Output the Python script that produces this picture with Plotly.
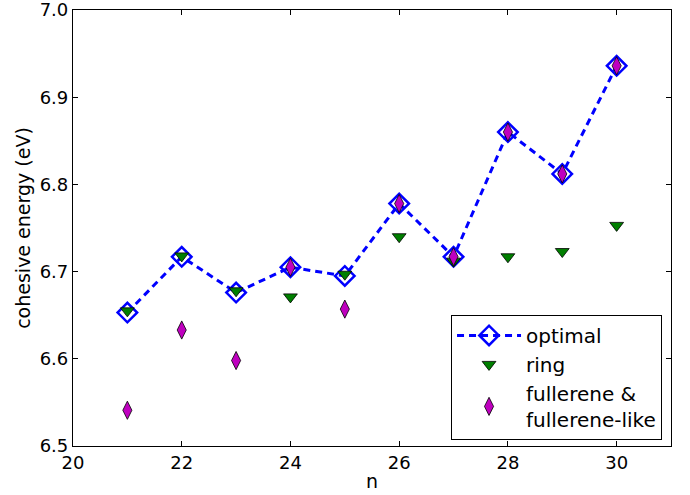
import plotly.graph_objects as go

n = [21, 22, 23, 24, 25, 26, 27, 28, 29, 30]
optimal = [6.653, 6.717, 6.676, 6.705, 6.695, 6.778, 6.717, 6.860, 6.812, 6.936]
ring = [6.655, 6.718, 6.678, 6.671, 6.697, 6.740, 6.712, 6.717, 6.723, 6.753]
fullerene = [6.541, 6.633, 6.598, 6.705, 6.657, 6.778, 6.717, 6.860, 6.812, 6.936]
y_ticks = [6.5, 6.6, 6.7, 6.8, 6.9, 7.0]
x_ticks = [20, 22, 24, 26, 28, 30]

FONT = "DejaVu Sans"

fig = go.Figure()
fig.add_trace(go.Scatter(
    x=n, y=optimal, mode="lines+markers", name="optimal",
    line=dict(color="#0000ff", width=3, dash="7px,5px"),
    marker=dict(symbol="diamond-open", size=15, color="#0000ff",
                line=dict(color="#0000ff", width=2.5)),
))
fig.add_trace(go.Scatter(
    x=n, y=ring, mode="markers", name="ring",
    marker=dict(symbol="triangle-down", size=12, color="#007f00",
                line=dict(color="black", width=0.8)),
))
fig.add_trace(go.Scatter(
    x=n, y=fullerene, mode="markers", name="fullerene &<br>fullerene-like",
    marker=dict(symbol="diamond-tall", size=13, color="#bf00bf",
                line=dict(color="black", width=0.8)),
))

axis_common = dict(
    showgrid=False, zeroline=False, showline=True, linecolor="black",
    linewidth=1.2, mirror="allticks", ticks="inside", ticklen=5,
    tickwidth=1, tickcolor="black", automargin=False,
    ticklabeloverflow="allow",
    tickfont=dict(family=FONT, size=18, color="black"),
)

fig.update_xaxes(range=[20, 31], tickmode="array", tickvals=x_ticks,
                 ticktext=[str(v) for v in x_ticks],
                 title=dict(text="n", font=dict(family=FONT, size=19, color="black"), standoff=2),
                 **axis_common)
fig.update_yaxes(range=[6.5, 7.0], tickmode="array", tickvals=y_ticks,
                 ticktext=[f"{v:.1f}" for v in y_ticks],
                 title=dict(text="cohesive energy (eV)", font=dict(family=FONT, size=19, color="black"), standoff=4),
                 **axis_common)

fig.update_layout(
    width=690, height=495,
    margin=dict(l=73, r=19, t=10, b=49),
    paper_bgcolor="white", plot_bgcolor="white",
    font=dict(family=FONT, color="black"),
    legend=dict(x=0.985, y=0.014, xanchor="right", yanchor="bottom",
                bordercolor="black", borderwidth=1, bgcolor="white",
                font=dict(family=FONT, size=20, color="black"),
                itemwidth=64, tracegroupgap=0),
)

fig.write_html("out.html")
